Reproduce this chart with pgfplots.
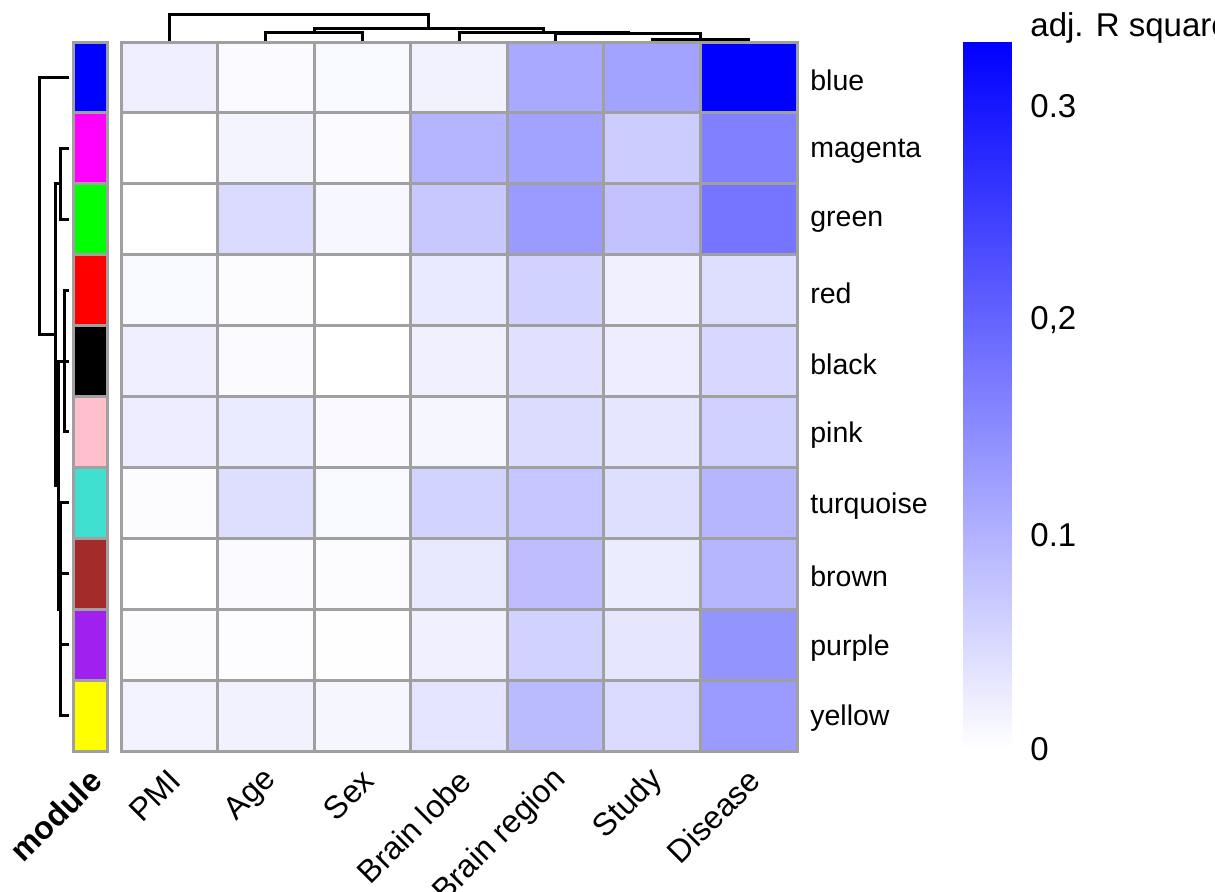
\documentclass[border=0pt]{standalone}
\usepackage{pgfplots}
\usepackage{pgfplotstable}
\pgfplotsset{compat=1.18}
\usepackage{fontspec}
\setmainfont{Liberation Sans}

\definecolor{gridgray}{RGB}{160,160,160}
\definecolor{mblue}{RGB}{0,0,255}
\definecolor{mmagenta}{RGB}{255,0,255}
\definecolor{mgreen}{RGB}{0,255,0}
\definecolor{mred}{RGB}{255,0,0}
\definecolor{mblack}{RGB}{0,0,0}
\definecolor{mpink}{RGB}{255,192,203}
\definecolor{mturquoise}{RGB}{64,224,208}
\definecolor{mbrown}{RGB}{165,42,42}
\definecolor{mpurple}{RGB}{160,32,240}
\definecolor{myellow}{RGB}{255,255,0}

\pgfplotsset{
  dend/.style={black, solid, line width=1.5pt, no marks},
  cell/.style={draw=gridgray, line width=1.5pt},
  wb/.style={colormap={wb}{rgb255=(255,255,255) rgb255=(0,0,255)},
             point meta min=0, point meta max=0.33},
}

% adjusted R squared of each module eigengene (rows) against each trait (columns)
% x: 0 PMI, 1 Age, 2 Sex, 3 Brain lobe, 4 Brain region, 5 Study, 6 Disease
% y: 0 blue ... 9 yellow
\pgfplotstableread{
x y v
0 0 0.022
1 0 0.006
2 0 0.009
3 0 0.017
4 0 0.110
5 0 0.120
6 0 0.330
0 1 0.000
1 1 0.014
2 1 0.005
3 1 0.097
4 1 0.120
5 1 0.065
6 1 0.162
0 2 0.000
1 2 0.048
2 2 0.010
3 2 0.071
4 2 0.130
5 2 0.078
6 2 0.177
0 3 0.009
1 3 0.004
2 3 0.000
3 3 0.028
4 3 0.058
5 3 0.019
6 3 0.043
0 4 0.022
1 4 0.005
2 4 0.000
3 4 0.019
4 4 0.039
5 4 0.023
6 4 0.052
0 5 0.023
1 5 0.026
2 5 0.008
3 5 0.012
4 5 0.045
5 5 0.032
6 5 0.061
0 6 0.004
1 6 0.043
2 6 0.009
3 6 0.056
4 6 0.074
5 6 0.043
6 6 0.094
0 7 0.000
1 7 0.006
2 7 0.004
3 7 0.030
4 7 0.084
5 7 0.025
6 7 0.094
0 8 0.004
1 8 0.003
2 8 0.001
3 8 0.019
4 8 0.058
5 8 0.032
6 8 0.138
0 9 0.016
1 9 0.017
2 9 0.012
3 9 0.035
4 9 0.089
5 9 0.048
6 9 0.130
}\heat

\begin{document}
\begin{tikzpicture}
\useasboundingbox (0,0) rectangle (607.5pt,-446pt);
\clip (0,0) rectangle (607.5pt,-446pt);

% ---- heatmap ----
\begin{axis}[
  at={(60.5pt,-21pt)}, anchor=north west,
  width=338pt, height=354.5pt, scale only axis,
  xmin=-0.5, xmax=6.5, ymin=-0.5, ymax=9.5, y dir=reverse,
  clip=false,
  axis line style={draw=gridgray, line width=1.5pt},
  xtick={0,...,6},
  xticklabels={PMI,Age,Sex,Brain lobe,Brain region,Study,Disease},
  ytick={0,...,9},
  yticklabels={blue,magenta,green,red,black,pink,turquoise,brown,purple,yellow},
  yticklabel pos=right,
  major tick length=0pt, minor tick length=0pt,
  minor xtick={-0.5,0.5,1.5,2.5,3.5,4.5,5.5,6.5},
  minor ytick={-0.5,0.5,1.5,2.5,3.5,4.5,5.5,6.5,7.5,8.5,9.5},
  minor grid style={draw=gridgray, line width=1.5pt},
  xminorgrids=true, yminorgrids=true,
  axis on top,
  xticklabel style={font=\fontsize{16}{19}\selectfont, xshift=3pt, yshift=-12pt, rotate=45, anchor=east, inner sep=0pt},
  yticklabel style={font=\fontsize{14.25}{17}\selectfont, anchor=west, inner sep=0pt, xshift=6.5pt, yshift=-1.5pt},
  wb,
]
\addplot[matrix plot*, mesh/cols=7, point meta=explicit] table[x=x, y=y, meta=v] {\heat};
\end{axis}

% ---- colour key ----
\begin{axis}[
  at={(481.5pt,-21pt)}, anchor=north west,
  width=24pt, height=353.5pt, scale only axis,
  xmin=0, xmax=1, ymin=0, ymax=0.33,
  axis line style={draw=none},
  xtick=\empty,
  ytick={0,0.1,0.2,0.3},
  yticklabels={0,0.1,{0,2},0.3},
  yticklabel pos=right,
  major tick length=0pt,
  yticklabel style={font=\fontsize{16.5}{19}\selectfont, anchor=west, inner sep=0pt, xshift=9.5pt},
  wb,
]
\addplot[surf, shader=interp, mesh/cols=2, point meta=y] coordinates {(0,0) (1,0) (0,0.33) (1,0.33)};
\end{axis}

% ---- module colour strip ----
\begin{axis}[
  at={(36.5pt,-21pt)}, anchor=north west,
  width=17pt, height=354.5pt, scale only axis,
  xmin=0, xmax=1, ymin=-0.5, ymax=9.5, y dir=reverse,
  clip=false,
  axis line style={draw=none},
  ytick=\empty,
  xtick={0.5}, xticklabels={\textbf{module}},
  major tick length=0pt,
  xticklabel style={font=\fontsize{16}{19}\selectfont, xshift=3pt, yshift=-12pt, rotate=45, anchor=east, inner sep=0pt},
]
\addplot[fill=mblue, cell] coordinates {(0,-0.5) (1,-0.5) (1,0.5) (0,0.5)} --cycle;
\addplot[fill=mmagenta, cell] coordinates {(0,0.5) (1,0.5) (1,1.5) (0,1.5)} --cycle;
\addplot[fill=mgreen, cell] coordinates {(0,1.5) (1,1.5) (1,2.5) (0,2.5)} --cycle;
\addplot[fill=mred, cell] coordinates {(0,2.5) (1,2.5) (1,3.5) (0,3.5)} --cycle;
\addplot[fill=mblack, cell] coordinates {(0,3.5) (1,3.5) (1,4.5) (0,4.5)} --cycle;
\addplot[fill=mpink, cell] coordinates {(0,4.5) (1,4.5) (1,5.5) (0,5.5)} --cycle;
\addplot[fill=mturquoise, cell] coordinates {(0,5.5) (1,5.5) (1,6.5) (0,6.5)} --cycle;
\addplot[fill=mbrown, cell] coordinates {(0,6.5) (1,6.5) (1,7.5) (0,7.5)} --cycle;
\addplot[fill=mpurple, cell] coordinates {(0,7.5) (1,7.5) (1,8.5) (0,8.5)} --cycle;
\addplot[fill=myellow, cell] coordinates {(0,8.5) (1,8.5) (1,9.5) (0,9.5)} --cycle;
\end{axis}

% ---- row dendrogram (merge height, row) ----
\begin{axis}[
  at={(20pt,-21pt)}, anchor=north west,
  width=14.5pt, height=354.5pt, scale only axis,
  xmin=0, xmax=29, x dir=reverse,
  ymin=-0.5, ymax=9.5, y dir=reverse,
  hide axis, clip=false,
]
\addplot[dend] coordinates {(0,1) (9,1) (9,2) (0,2)};
\addplot[dend] coordinates {(0,3) (5,3) (5,5) (0,5)};
\addplot[dend] coordinates {(0,4) (5,4)};
\addplot[dend] coordinates {(0,6) (9,6) (9,9) (0,9)};
\addplot[dend] coordinates {(0,7) (9,7)};
\addplot[dend] coordinates {(0,8) (9,8)};
\addplot[dend] coordinates {(5,4) (11,4) (11,7.5) (9,7.5)};
\addplot[dend] coordinates {(9,1.5) (14,1.5) (14,5.75) (11,5.75)};
\addplot[dend] coordinates {(0,0) (29,0) (29,3.625) (14,3.625)};
\end{axis}

% ---- column dendrogram (column, merge height) ----
\begin{axis}[
  at={(60.5pt,-20.5pt)}, anchor=south west,
  width=338pt, height=13pt, scale only axis,
  xmin=-0.5, xmax=6.5, ymin=0, ymax=26,
  hide axis, clip=false,
]
\addplot[dend] coordinates {(1,0) (1,8) (2,8) (2,0)};
\addplot[dend] coordinates {(5,0) (5,1) (6,1) (6,0)};
\addplot[dend] coordinates {(4,0) (4,7) (5.5,7) (5.5,1)};
\addplot[dend] coordinates {(3,0) (3,8) (4.75,8) (4.75,7)};
\addplot[dend] coordinates {(1.5,8) (1.5,12) (3.875,12) (3.875,8)};
\addplot[dend] coordinates {(0,0) (0,26) (2.6875,26) (2.6875,12)};
\end{axis}

% colour key title
\node[anchor=base west, inner sep=0pt, font=\fontsize{16.5}{19}\selectfont] at (515pt,-18.5pt) {adj. R squared};
\end{tikzpicture}
\end{document}
